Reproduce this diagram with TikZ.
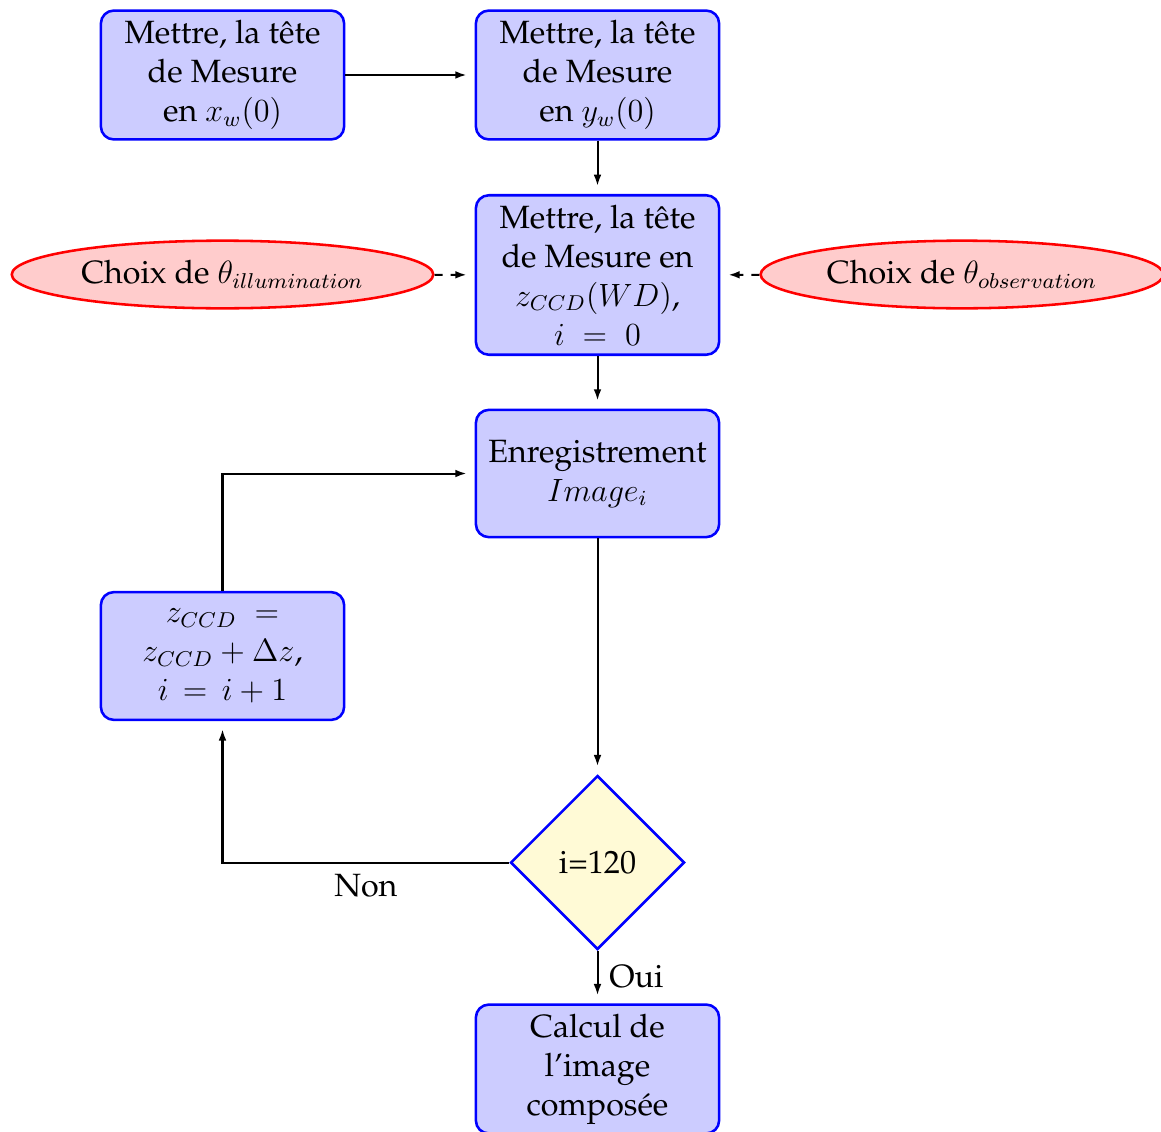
\documentclass[12pt,tikz,border=0pt]{standalone}
\usepackage[T1]{fontenc}
\renewcommand{\rmdefault}{ppl}
\usetikzlibrary{shapes.geometric,arrows.meta}
\definecolor{boxfill}{RGB}{204,204,255}
\definecolor{cloudfill}{RGB}{255,204,204}
\definecolor{decfill}{RGB}{255,250,214}
\tikzset{
  block/.style={rectangle, draw=blue, line width=0.95pt, fill=boxfill, rounded corners=4.8pt,
    align=center, minimum width=90.6pt, minimum height=48pt, inner sep=1.8pt},
  decision/.style={diamond, draw=blue, line width=0.95pt, fill=decfill, inner sep=0pt,
    minimum width=64.8pt, minimum height=64.8pt, align=center},
  cloud/.style={ellipse, draw=red, line width=0.95pt, fill=cloudfill, inner sep=0pt},
  line/.style={draw, line width=0.75pt, -{Latex[length=4.2pt,width=2.9pt]}, shorten >=3pt},
  dline/.style={line, dashed}
}
\begin{document}
\begin{tikzpicture}[x=0.3725pt, y=-0.3725pt]
\useasboundingbox (0,0) rectangle (1161,1131);
\node[block] (b1) at (222.5,75) {Mettre, la t\^ete\\ de Mesure\\ en $x_w(0)$};
\node[block] (b2) at (597.5,75) {Mettre, la t\^ete\\ de Mesure\\ en $y_w(0)$};
\node[block, minimum height=59.4pt] (b3) at (597.5,275) {Mettre, la t\^ete\\ de Mesure en\\ $z_{CCD}(WD)$,\\ $i\;=\;0$};
\node[block, minimum height=47.4pt] (b4) at (597.5,473.5) {Enregistrement\\ $Image_i$};
\node[block, minimum height=47.6pt] (b5) at (222.5,656) {$z_{CCD}\;=$\\ $z_{CCD}+\Delta z$,\\ $i\,=\,i+1$};
\node[decision] (dec) at (597.5,862.5) {i=120};
\node[block] (b6) at (597.5,1069) {Calcul de\\ l'image\\ compos\'ee};
\node[cloud, minimum width=157pt, minimum height=25.2pt] (cl) at (222.5,274.5) {Choix de $\theta_{illumination}$};
\node[cloud, minimum width=150pt, minimum height=25.2pt] (cr) at (962,274.5) {Choix de $\theta_{observation}$};
\draw[line] (b1) -- (b2);
\draw[line] (b2) -- (b3);
\draw[line] (b3) -- (b4);
\draw[line] (b4) -- (dec);
\draw[line] (dec) -- node[right] {Oui} (b6);
\draw[line] (dec) -| node[below, pos=0.25] {Non} (b5);
\draw[line] (b5) |- (b4);
\draw[dline] (cl) -- (b3);
\draw[dline] (cr) -- (b3);
\end{tikzpicture}
\end{document}
